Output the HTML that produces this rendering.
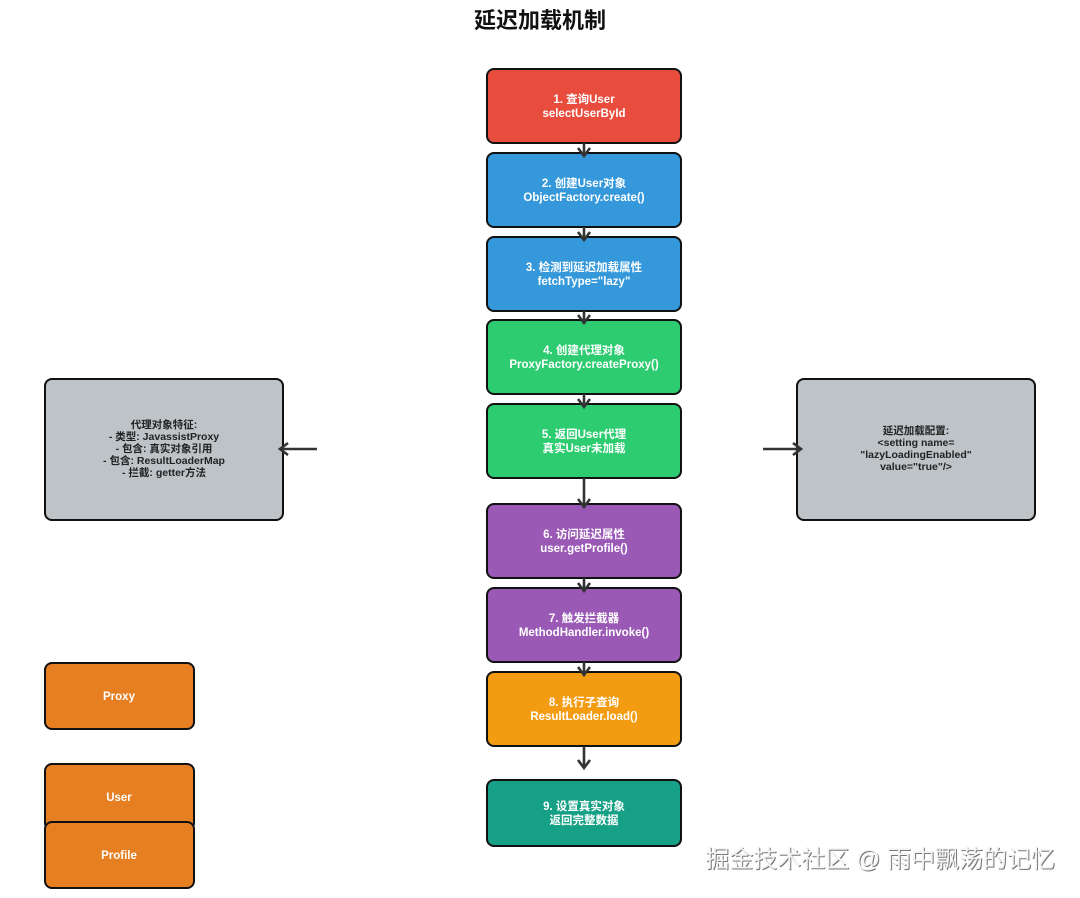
<!DOCTYPE html>
<html><head><meta charset="utf-8"><style>
html,body{margin:0;padding:0;background:#fff;width:1080px;height:898px;overflow:hidden}
svg text{font-family:"Liberation Sans","Noto Sans CJK SC",sans-serif;font-weight:bold}
</style></head><body>
<svg width="1080" height="898" viewBox="0 0 1080 898" xmlns="http://www.w3.org/2000/svg">
<defs>
<marker id="a" markerWidth="16" markerHeight="16" refX="11" refY="8" orient="auto" markerUnits="userSpaceOnUse">
<path d="M3,2 L11,8 L3,14" fill="none" stroke="#333" stroke-width="2.6"/>
</marker>
</defs>
<text x="540" y="28" text-anchor="middle" font-size="22" fill="#111">延迟加载机制</text>
<g stroke="#111" stroke-width="2">
<rect x="487" y="69" width="194" height="74" rx="7" fill="#e74c3c"/>
<rect x="487" y="153" width="194" height="74" rx="7" fill="#3498db"/>
<rect x="487" y="237" width="194" height="74" rx="7" fill="#3498db"/>
<rect x="487" y="320" width="194" height="74" rx="7" fill="#2ecc71"/>
<rect x="487" y="404" width="194" height="74" rx="7" fill="#2ecc71"/>
<rect x="487" y="504" width="194" height="74" rx="7" fill="#9b59b6"/>
<rect x="487" y="588" width="194" height="74" rx="7" fill="#9b59b6"/>
<rect x="487" y="672" width="194" height="74" rx="7" fill="#f39c12"/>
<rect x="487" y="780" width="194" height="66" rx="7" fill="#16a085"/>
<rect x="45" y="379" width="238" height="141" rx="7" fill="#bdc3c7"/>
<rect x="797" y="379" width="238" height="141" rx="7" fill="#bdc3c7"/>
<rect x="45" y="663" width="149" height="66" rx="7" fill="#e67e22"/>
<rect x="45" y="764" width="149" height="66" rx="7" fill="#e67e22"/>
<rect x="45" y="822" width="149" height="66" rx="7" fill="#e67e22"/>
</g>
<g stroke="#333" stroke-width="2.6" marker-end="url(#a)">
<line x1="584" y1="143" x2="584" y2="156"/>
<line x1="584" y1="227" x2="584" y2="240"/>
<line x1="584" y1="311" x2="584" y2="323"/>
<line x1="584" y1="394" x2="584" y2="407"/>
<line x1="584" y1="478" x2="584" y2="507"/>
<line x1="584" y1="578" x2="584" y2="591"/>
<line x1="584" y1="662" x2="584" y2="675"/>
<line x1="584" y1="746" x2="584" y2="768"/>
<line x1="317" y1="449" x2="280" y2="449"/>
<line x1="763" y1="449" x2="801" y2="449"/>
</g>
<g fill="#fff" font-size="11.5" text-anchor="middle">
<text x="584" y="103">1. 查询User</text><text x="584" y="117">selectUserById</text>
<text x="584" y="187">2. 创建User对象</text><text x="584" y="201">ObjectFactory.create()</text>
<text x="584" y="271">3. 检测到延迟加载属性</text><text x="584" y="285">fetchType="lazy"</text>
<text x="584" y="354">4. 创建代理对象</text><text x="584" y="368">ProxyFactory.createProxy()</text>
<text x="584" y="438">5. 返回User代理</text><text x="584" y="452">真实User未加载</text>
<text x="584" y="538">6. 访问延迟属性</text><text x="584" y="552">user.getProfile()</text>
<text x="584" y="622">7. 触发拦截器</text><text x="584" y="636">MethodHandler.invoke()</text>
<text x="584" y="706">8. 执行子查询</text><text x="584" y="720">ResultLoader.load()</text>
<text x="584" y="810">9. 设置真实对象</text><text x="584" y="824">返回完整数据</text>
<text x="119" y="700">Proxy</text>
<text x="119" y="801">User</text>
<text x="119" y="859">Profile</text>
</g>
<g fill="#222" font-size="10.5" text-anchor="middle">
<text x="164" y="428">代理对象特征:</text>
<text x="164" y="440">- 类型: JavassistProxy</text>
<text x="164" y="452">- 包含: 真实对象引用</text>
<text x="164" y="464">- 包含: ResultLoaderMap</text>
<text x="164" y="476">- 拦截: getter方法</text>
<text x="916" y="434">延迟加载配置:</text>
<text x="916" y="446">&lt;setting name=</text>
<text x="916" y="458">"lazyLoadingEnabled"</text>
<text x="916" y="470">value="true"/&gt;</text>
</g>
<text x="1056" y="868" text-anchor="end" font-size="24" fill="#777" style="font-weight:normal">掘金技术社区 @ 雨中飘荡的记忆</text>
<text x="1055" y="867" text-anchor="end" font-size="24" fill="#f4f4f4" style="font-weight:normal">掘金技术社区 @ 雨中飘荡的记忆</text>
</svg>
</body></html>
